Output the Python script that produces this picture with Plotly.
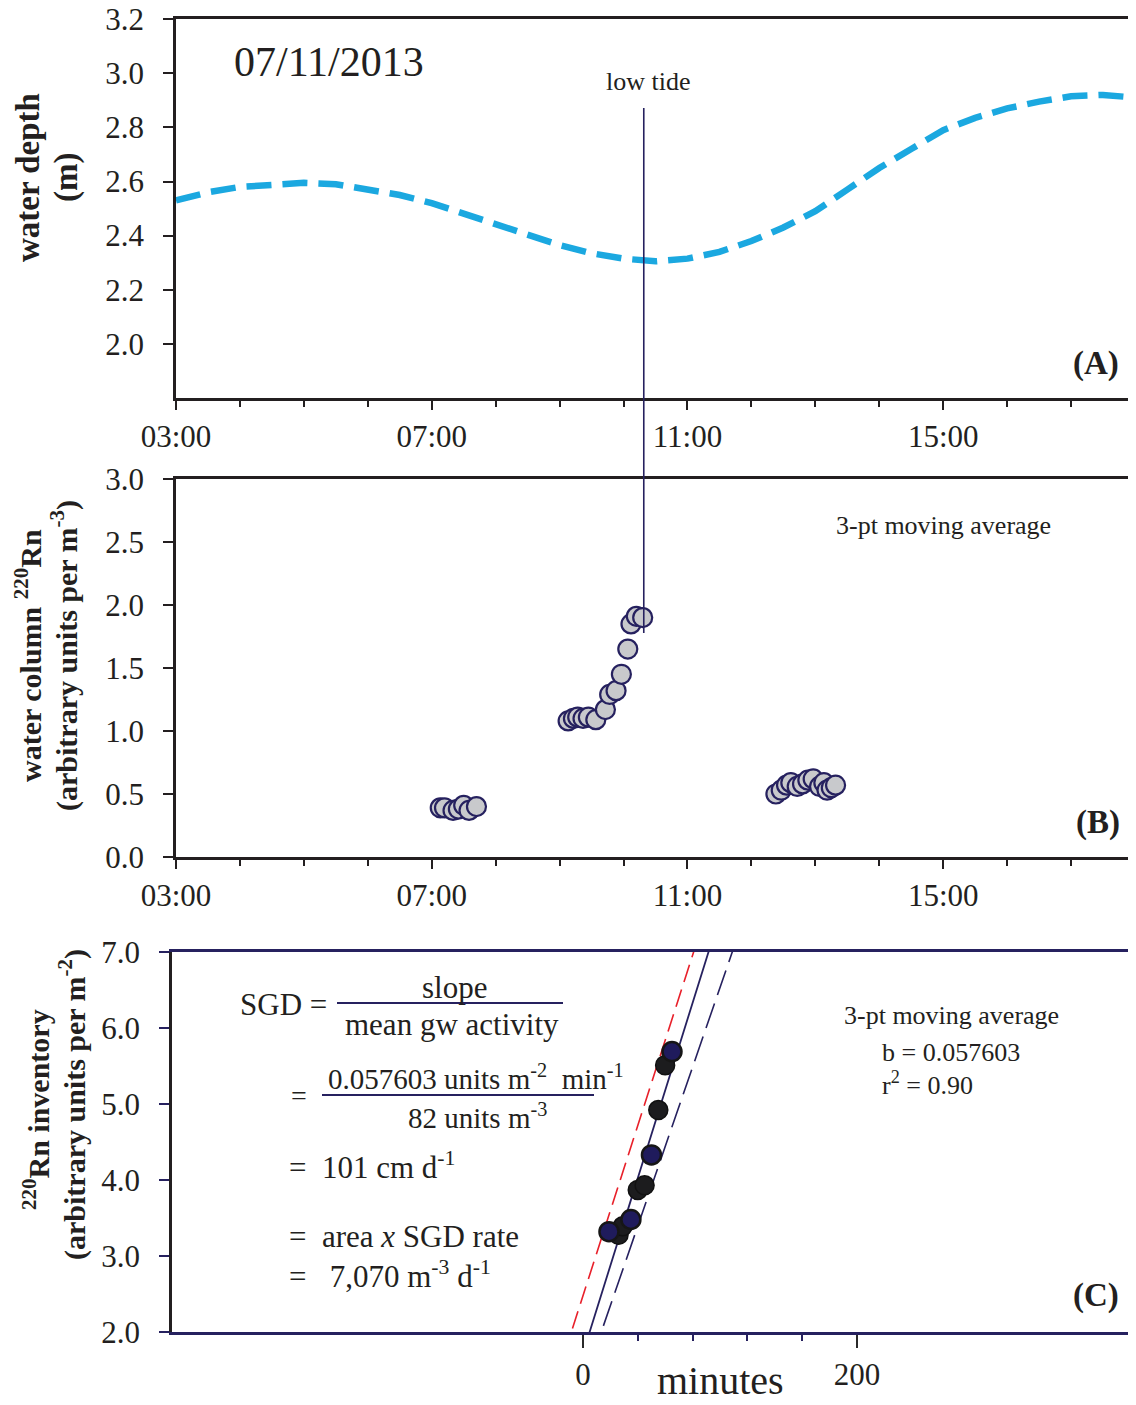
import plotly.graph_objects as go

# The page body adds an 8px margin, so the figure is laid out from (8, 8).
OFF = 8
W, H = 1136 - OFF, 1405 - OFF
DAY = "2013-07-11 "

# ---------------- data ----------------
# Panel A: water depth (m)
tide_times = ["03:00", "03:30", "04:00", "04:30", "05:00", "05:30", "06:00", "06:30",
              "07:00", "07:30", "08:00", "08:30", "09:00", "09:30", "10:00", "10:30",
              "11:00", "11:30", "12:00", "12:30", "13:00", "13:30", "14:00", "14:30",
              "15:00", "15:30", "16:00", "16:30", "17:00", "17:30", "18:00"]
tide_depth = [2.53, 2.56, 2.58, 2.59, 2.595, 2.59, 2.57, 2.55,
              2.52, 2.48, 2.44, 2.40, 2.365, 2.335, 2.315, 2.305,
              2.315, 2.34, 2.38, 2.43, 2.49, 2.57, 2.65, 2.72,
              2.79, 2.835, 2.87, 2.895, 2.915, 2.92, 2.91]
low_tide_time = "10:19"

# Panel B: water column 220Rn (3-pt moving average)
rn_times = ["07:08", "07:12", "07:20", "07:25", "07:30", "07:35", "07:42",
            "09:08", "09:13", "09:17", "09:22", "09:27", "09:34", "09:43", "09:47",
            "09:53", "09:58", "10:04", "10:07", "10:12", "10:18",
            "12:23", "12:28", "12:33", "12:37", "12:43", "12:48", "12:53", "12:58",
            "13:04", "13:08", "13:11", "13:15", "13:19"]
rn_values = [0.39, 0.39, 0.37, 0.38, 0.41, 0.37, 0.40,
             1.08, 1.10, 1.11, 1.10, 1.11, 1.09, 1.17, 1.29,
             1.32, 1.45, 1.65, 1.85, 1.91, 1.90,
             0.50, 0.53, 0.57, 0.59, 0.56, 0.58, 0.61, 0.62,
             0.56, 0.59, 0.53, 0.55, 0.57]

# Panel C: 220Rn inventory vs minutes
inv_minutes_black = [26, 29, 40, 45, 55, 60]
inv_values_black = [3.28, 3.39, 3.87, 3.93, 4.92, 5.51]
inv_minutes_navy = [19, 35, 50, 65]
inv_values_navy = [3.32, 3.48, 4.33, 5.69]

fit_slope, fit_intercept = 0.057603, 1.72
upper_slope, upper_intercept = 0.056, 2.476
lower_slope, lower_intercept = 0.0523, 1.30
line_span = [-60, 160]

y_ticks_a = [2.0, 2.2, 2.4, 2.6, 2.8, 3.0, 3.2]
y_ticks_b = [0.0, 0.5, 1.0, 1.5, 2.0, 2.5, 3.0]
y_ticks_c = [2.0, 3.0, 4.0, 5.0, 6.0, 7.0]
x_time_ticks = ["03:00", "07:00", "11:00", "15:00"]
x_min_ticks = [0, 200]
x_min_minor = [40, 80, 120, 160]

# ---------------- styling helpers ----------------
FONT = "Liberation Serif"
TXT = "#231f20"
NAVY = "#26215f"


def px(x):
    return (x - OFF) / W


def py(y):
    return 1 - (y - OFF) / H


fig = go.Figure()

# Panel A
fig.add_trace(go.Scatter(
    x=[DAY + t for t in tide_times], y=tide_depth, mode="lines",
    line=dict(color="#1ba8e0", width=6.5, dash="25px,11px"),
    xaxis="x", yaxis="y", hoverinfo="skip"))

# Panel B
fig.add_trace(go.Scatter(
    x=[DAY + t for t in rn_times], y=rn_values, mode="markers",
    marker=dict(size=19, color="#c8c9cc", line=dict(color=NAVY, width=2.2)),
    xaxis="x2", yaxis="y2", hoverinfo="skip"))

# Panel C lines
fit_y = [fit_intercept + fit_slope * v for v in line_span]
up_y = [upper_intercept + upper_slope * v for v in line_span]
lo_y = [lower_intercept + lower_slope * v for v in line_span]
fig.add_trace(go.Scatter(x=line_span, y=up_y, mode="lines",
                         line=dict(color="#e8202a", width=1.6, dash="18px,8px"),
                         xaxis="x3", yaxis="y3", hoverinfo="skip"))
fig.add_trace(go.Scatter(x=line_span, y=fit_y, mode="lines",
                         line=dict(color=NAVY, width=1.8),
                         xaxis="x3", yaxis="y3", hoverinfo="skip"))
fig.add_trace(go.Scatter(x=line_span, y=lo_y, mode="lines",
                         line=dict(color=NAVY, width=1.6, dash="26px,9px"),
                         xaxis="x3", yaxis="y3", hoverinfo="skip"))
fig.add_trace(go.Scatter(x=inv_minutes_black, y=inv_values_black, mode="markers",
                         marker=dict(size=19, color="#1c1c1e", line=dict(color="#111111", width=1.5)),
                         xaxis="x3", yaxis="y3", hoverinfo="skip"))
fig.add_trace(go.Scatter(x=inv_minutes_navy, y=inv_values_navy, mode="markers",
                         marker=dict(size=19, color="#1f1b5c", line=dict(color="#161616", width=2.5)),
                         xaxis="x3", yaxis="y3", hoverinfo="skip"))

tickfont = dict(family=FONT, size=31, color=TXT)

time_axis = dict(
    type="date",
    range=[DAY + "03:00", DAY + "18:00"],
    tickmode="array",
    tickvals=[DAY + t for t in x_time_ticks],
    ticktext=x_time_ticks,
    ticks="outside", ticklen=9, tickwidth=2, tickcolor="#231f20",
    minor=dict(tickmode="linear", tick0=DAY + "03:00", dtick=3600000,
               ticks="outside", ticklen=6, tickwidth=2, tickcolor="#231f20"),
    showline=True, linecolor="#231f20", linewidth=2.5, mirror=True,
    showgrid=False, zeroline=False, tickfont=tickfont, automargin=False,
)

yax_common = dict(ticks="outside", ticklen=10, tickwidth=2,
                  showline=True, linecolor="#231f20", linewidth=2.5, mirror=True,
                  showgrid=False, zeroline=False, tickfont=tickfont,
                  ticklabelstandoff=13, automargin=False, tickmode="array",
                  ticklabeloverflow="allow")

fig.update_layout(
    width=W, height=H,
    margin=dict(l=0, r=0, t=0, b=0, autoexpand=False),
    paper_bgcolor="white", plot_bgcolor="white",
    showlegend=False,
    xaxis=dict(time_axis, domain=[px(176), px(1135)], anchor="y"),
    yaxis=dict(yax_common, domain=[py(398), py(19)], range=[1.8, 3.2005], anchor="x",
               tickvals=y_ticks_a, ticktext=[f"{v:.1f}" for v in y_ticks_a],
               tickcolor="#231f20"),
    xaxis2=dict(time_axis, domain=[px(176), px(1135)], anchor="y2"),
    yaxis2=dict(yax_common, domain=[py(857), py(479)], range=[0, 3.0], anchor="x2",
                tickvals=y_ticks_b, ticktext=[f"{v:.1f}" for v in y_ticks_b],
                tickcolor="#231f20"),
    xaxis3=dict(domain=[px(172), px(1135)], range=[-300, 403], anchor="y3",
                tickmode="array", tickvals=x_min_ticks, ticktext=[str(v) for v in x_min_ticks],
                ticks="outside", ticklen=13, tickwidth=2, tickcolor="#2a2a2a",
                minor=dict(tickmode="array", tickvals=x_min_minor, ticks="outside",
                           ticklen=6, tickwidth=2, tickcolor=NAVY),
                showline=True, linecolor=NAVY, linewidth=3, mirror=True,
                showgrid=False, zeroline=False, tickfont=tickfont, automargin=False),
    yaxis3=dict(yax_common, domain=[py(1332), py(952)], range=[2.0, 7.0], anchor="x3",
                tickvals=y_ticks_c, ticktext=[f"{v:.1f}" for v in y_ticks_c],
                tickcolor=NAVY),
)

# low tide vertical line spanning panels A and B
fig.add_shape(type="line", xref="x", yref="paper",
              x0=DAY + low_tide_time, x1=DAY + low_tide_time,
              y0=py(633), y1=py(108), line=dict(color=NAVY, width=1.6), layer="above")

# fraction bars in panel C
fig.add_shape(type="line", xref="paper", yref="paper", x0=px(337), x1=px(563),
              y0=py(1003), y1=py(1003), line=dict(color=NAVY, width=1.8))
fig.add_shape(type="line", xref="paper", yref="paper", x0=px(322), x1=px(594),
              y0=py(1095), y1=py(1095), line=dict(color=NAVY, width=1.8))


def ann(text, x, y, size, xanchor="center", bold=False, angle=0):
    if bold:
        text = "<b>" + text + "</b>"
    fig.add_annotation(text=text, x=px(x), y=py(y), xref="paper", yref="paper",
                       xanchor=xanchor, yanchor="middle", showarrow=False, textangle=angle,
                       font=dict(family=FONT, size=size, color=TXT))


# Panel A text
ann("07/11/2013", 232, 62, 42, xanchor="left")
ann("low tide", 648, 82, 26)
ann("(A)", 1096, 364, 33, bold=True)
ann("water depth", 28, 178, 33, bold=True, angle=-90)
ann("(m)", 66, 178, 33, bold=True, angle=-90)

# Panel B text
ann("3-pt moving average", 943, 526, 26)
ann("(B)", 1098, 822, 33, bold=True)
ann("water column <sup>220</sup>Rn", 28, 656, 30, bold=True, angle=-90)
ann("(arbitrary units per m<sup>-3</sup>)", 64, 656, 30, bold=True, angle=-90)

# Panel C text
ann("<sup>220</sup>Rn inventory", 36, 1110, 30, bold=True, angle=-90)
ann("(arbitrary units per m<sup>-2</sup>)", 72, 1105, 30, bold=True, angle=-90)
ann("SGD =", 238, 1004, 31, xanchor="left")
ann("slope", 454, 987, 31)
ann("mean gw activity", 452, 1024, 31)
ann("=", 299, 1095, 28)
ann("0.057603 units m<sup>-2</sup>  min<sup>-1</sup>", 326, 1077, 29, xanchor="left")
ann("82 units m<sup>-3</sup>", 477, 1116, 29)
ann("=  101 cm d<sup>-1</sup>", 287, 1165, 31, xanchor="left")
ann("=  area <i>x</i> SGD rate", 287, 1236, 31, xanchor="left")
ann("=   7,070 m<sup>-3</sup> d<sup>-1</sup>", 287, 1274, 31, xanchor="left")
ann("3-pt moving average", 951, 1015, 26)
ann("b = 0.057603", 880, 1052, 26, xanchor="left")
ann("r<sup>2</sup> = 0.90", 880, 1083, 26, xanchor="left")
ann("(C)", 1096, 1295, 33, bold=True)
ann("minutes", 720, 1380, 40)

fig.write_html("out.html")
